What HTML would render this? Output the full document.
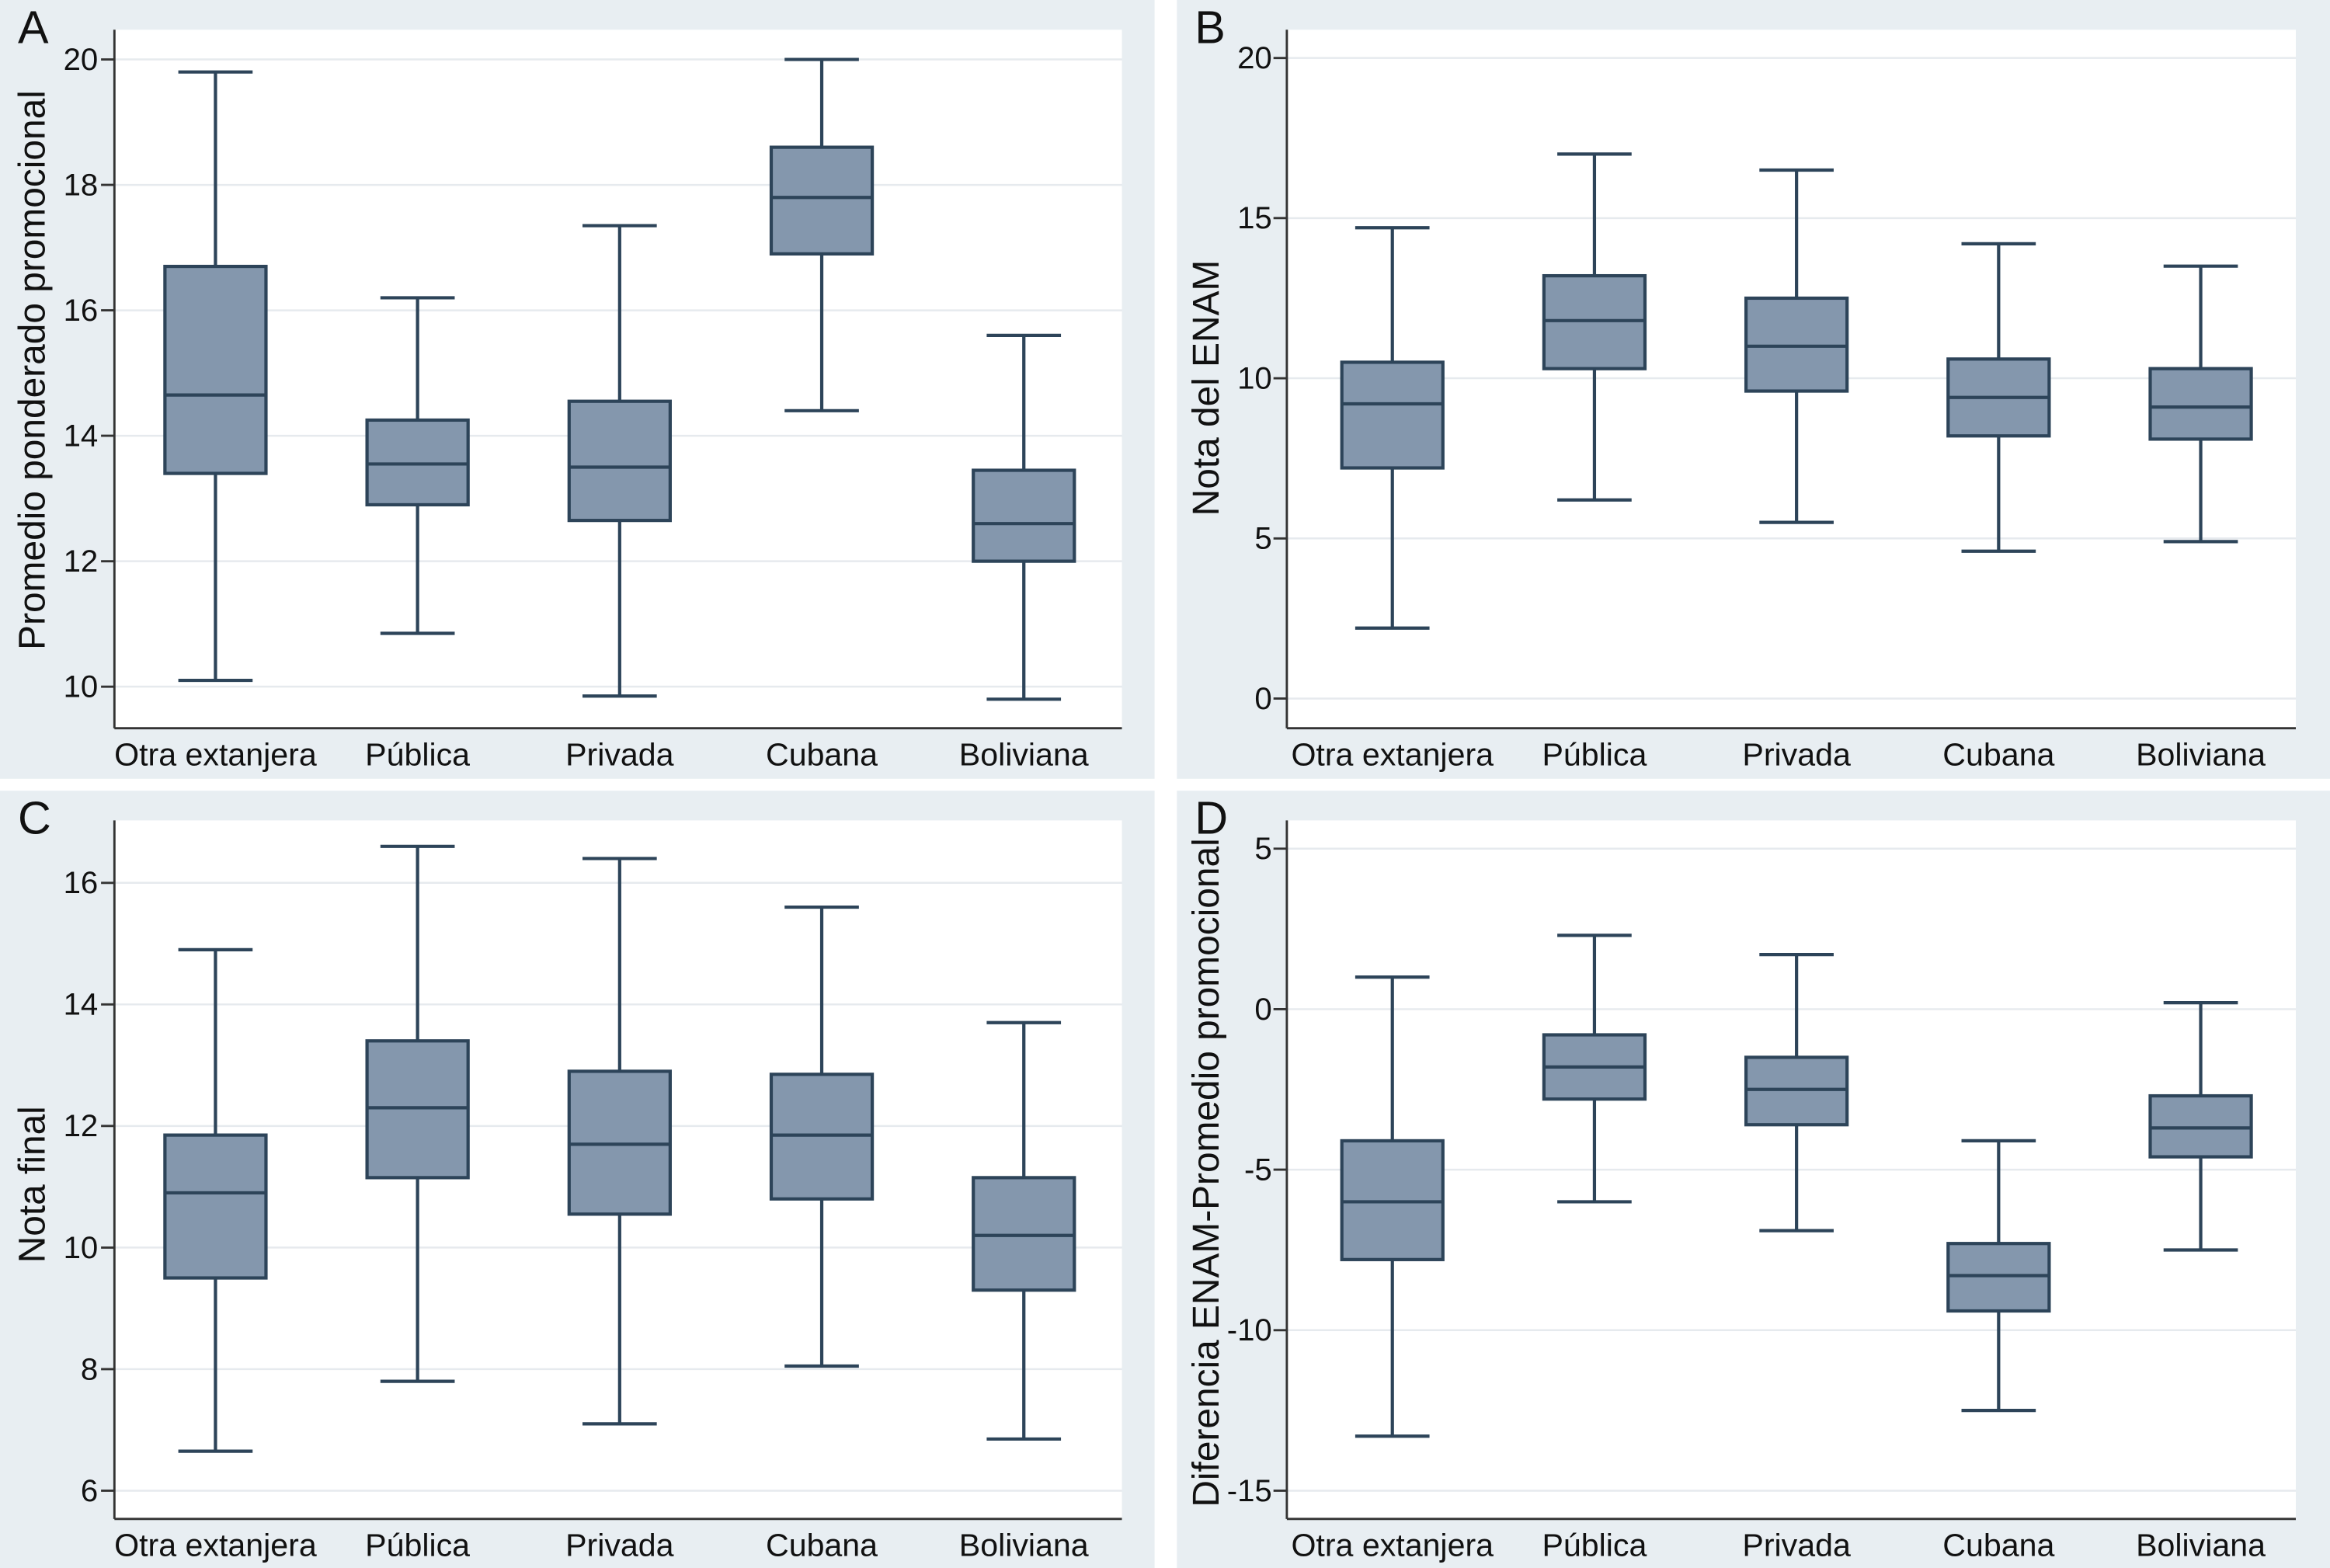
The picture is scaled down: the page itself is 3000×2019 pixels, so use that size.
<!DOCTYPE html>
<html><head><meta charset="utf-8"><style>
html,body{margin:0;padding:0;background:#fff}
svg{display:block}
text{font-family:"Liberation Sans",sans-serif;fill:#111}
</style></head><body>
<svg id="fig" width="3000" height="2019" viewBox="0 0 1568 1055" preserveAspectRatio="none" xmlns="http://www.w3.org/2000/svg"></svg>
<script>
const categories = ["Otra extanjera","Pública","Privada","Cubana","Boliviana"];
// each: [min, q1, median, q3, max]
const seriesA = [[10.1,13.4,14.65,16.7,19.8],[10.85,12.9,13.55,14.25,16.2],[9.85,12.65,13.5,14.55,17.35],[14.4,16.9,17.8,18.6,20.0],[9.8,12.0,12.6,13.45,15.6]];
const seriesB = [[2.2,7.2,9.2,10.5,14.7],[6.2,10.3,11.8,13.2,17.0],[5.5,9.6,11.0,12.5,16.5],[4.6,8.2,9.4,10.6,14.2],[4.9,8.1,9.1,10.3,13.5]];
const seriesC = [[6.65,9.5,10.9,11.85,14.9],[7.8,11.15,12.3,13.4,16.6],[7.1,10.55,11.7,12.9,16.4],[8.05,10.8,11.85,12.85,15.6],[6.85,9.3,10.2,11.15,13.7]];
const seriesD = [[-13.3,-7.8,-6.0,-4.1,1.0],[-6.0,-2.8,-1.8,-0.8,2.3],[-6.9,-3.6,-2.5,-1.5,1.7],[-12.5,-9.4,-8.3,-7.3,-4.1],[-7.5,-4.6,-3.7,-2.7,0.2]];
const ticksA = [10,12,14,16,18,20];
const ticksB = [0,5,10,15,20];
const ticksC = [6,8,10,12,14,16];
const ticksD = [-15,-10,-5,0,5];

const NS="http://www.w3.org/2000/svg";
const svg=document.getElementById('fig');
function mk(tag,attrs,parent,txt){const e=document.createElementNS(NS,tag);for(const k in attrs)e.setAttribute(k,attrs[k]);if(txt!==undefined)e.textContent=txt;(parent||svg).appendChild(e);return e;}

const panels=[
 {id:'a',letter:'A',px:0,py:0,pw:777,ph:524,ax:77,off:68,top:20,right:755,bottom:490,v0:10,y0:462,v1:20,y1:40,ticks:ticksA,data:seriesA,label:'Promedio ponderado promocional',lx:22,ly:249,tickx:66},
 {id:'b',letter:'B',px:792,py:0,pw:776,ph:524,ax:866,off:71,top:20,right:1545,bottom:490,v0:0,y0:470,v1:20,y1:39,ticks:ticksB,data:seriesB,label:'Nota del ENAM',lx:812,ly:261,tickx:856},
 {id:'c',letter:'C',px:0,py:532,pw:777,ph:523,ax:77,off:68,top:552,right:755,bottom:1022,v0:6,y0:1003,v1:16,y1:594,ticks:ticksC,data:seriesC,label:'Nota final',lx:22,ly:797,tickx:66},
 {id:'d',letter:'D',px:792,py:532,pw:776,ph:523,ax:866,off:71,top:552,right:1545,bottom:1022,v0:-15,y0:1003,v1:5,y1:571,ticks:ticksD,data:seriesD,label:'Diferencia ENAM-Promedio promocional',lx:812,ly:789,tickx:856}
];
panels.forEach(p=>{
  const g=mk('g',{});
  
  
  mk('rect',{x:p.px,y:p.py,width:p.pw,height:p.ph,fill:'#e8eef2'},g);
  mk('rect',{x:p.ax,y:p.top,width:p.right-p.ax,height:p.bottom-p.top,fill:'#ffffff'},g);
  const y=v=>p.y0+(v-p.v0)*(p.y1-p.y0)/(p.v1-p.v0);
  const x=i=>p.ax+p.off+i*136;
  p.ticks.forEach(t=>{
    mk('line',{x1:p.ax,x2:p.right,y1:y(t),y2:y(t),stroke:'#e6eaee','stroke-width':1.3},g);
    mk('line',{x1:p.ax-9,x2:p.ax,y1:y(t),y2:y(t),stroke:'#333','stroke-width':1.5},g);
    const tl=mk('text',{x:p.tickx,y:y(t)+7,'text-anchor':'end','font-size':21},g,String(t));
    
    
  });
  mk('line',{x1:p.ax,x2:p.ax,y1:p.top,y2:p.bottom,stroke:'#333','stroke-width':1.5},g);
  mk('line',{x1:p.ax,x2:p.right,y1:p.bottom,y2:p.bottom,stroke:'#333','stroke-width':1.5},g);
  const lt=mk('text',{x:p.lx,y:p.ly,'text-anchor':'middle','font-size':25,transform:`rotate(-90 ${p.lx} ${p.ly})`,dy:8},g,p.label);
  
  
  const le=mk('text',{x:p.px+12,y:p.py+29,'font-size':31},g,p.letter);
  
  
  p.data.forEach((d,i)=>{
    const cx=x(i);
    const bg=mk('g',{},g);
    
    
    const st={stroke:'#2d4459','stroke-width':2.2,fill:'none'};
    mk('line',Object.assign({x1:cx,x2:cx,y1:y(d[0]),y2:y(d[4])},st),bg);
    mk('line',Object.assign({x1:cx-25,x2:cx+25,y1:y(d[0]),y2:y(d[0])},st),bg);
    mk('line',Object.assign({x1:cx-25,x2:cx+25,y1:y(d[4]),y2:y(d[4])},st),bg);
    mk('rect',{x:cx-34,y:y(d[3]),width:68,height:y(d[1])-y(d[3]),fill:'#8497ad',stroke:'#2d4459','stroke-width':2.2},bg);
    mk('line',Object.assign({x1:cx-34,x2:cx+34,y1:y(d[2]),y2:y(d[2])},st),bg);
    const xl=mk('text',{x:cx,y:p.bottom+25,'text-anchor':'middle','font-size':21.5},g,categories[i]);
    
    
  });
});
</script>
</body></html>
